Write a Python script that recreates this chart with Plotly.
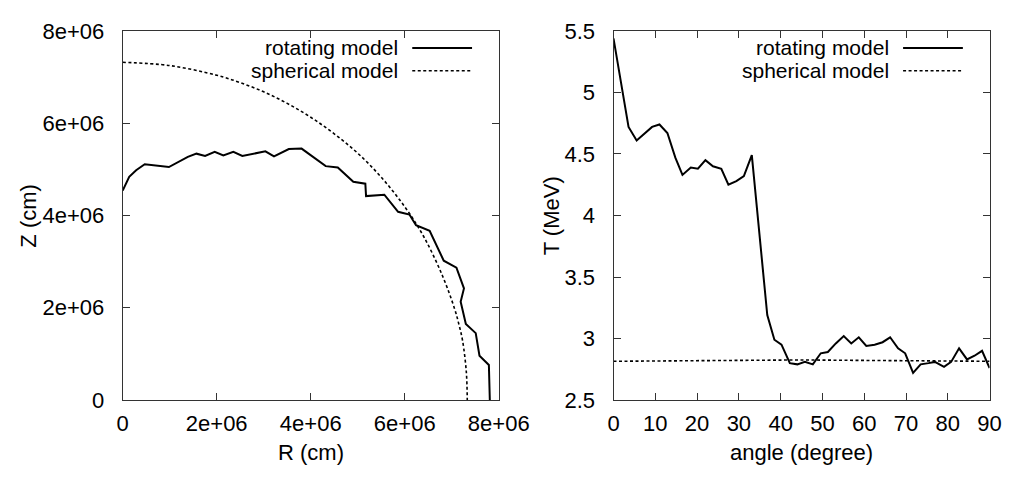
import plotly.graph_objects as go

# ---- left panel: shock surface in the R-Z plane (units of 1e6 cm) ----
rot_R = [0.0, 0.139, 0.286, 0.469, 0.983, 1.386, 1.569, 1.753, 1.958, 2.141, 2.354,
         2.545, 3.036, 3.219, 3.534, 3.806, 4.319, 4.576, 4.906, 5.162, 5.177, 5.566,
         5.859, 6.10, 6.24, 6.53, 6.83, 7.10, 7.26, 7.19, 7.30, 7.51, 7.59, 7.79, 7.81]
rot_Z = [4.54, 4.84, 4.98, 5.11, 5.05, 5.27, 5.34, 5.29, 5.38, 5.30, 5.38,
         5.29, 5.39, 5.28, 5.44, 5.45, 5.07, 5.04, 4.73, 4.69, 4.42, 4.45,
         4.08, 4.02, 3.79, 3.67, 3.02, 2.87, 2.42, 2.13, 1.65, 1.45, 0.96, 0.76, 0.0]

sph_R = [0.0, 1.0, 2.0, 2.5, 3.0, 3.5, 4.0, 4.5, 5.0, 5.5, 6.0, 6.4, 6.8, 7.06,
         7.15, 7.23, 7.31, 7.33]
sph_Z = [7.32, 7.25, 7.04, 6.88, 6.68, 6.43, 6.13, 5.77, 5.35, 4.83, 4.19, 3.55, 2.70,
         1.98, 1.65, 1.29, 0.61, 0.0]

rz_ticks = [0, 2, 4, 6, 8]
rz_ticktext = ["0", "2e+06", "4e+06", "6e+06", "8e+06"]

# ---- right panel: temperature vs polar angle ----
rot_angle = [0.0, 1.8, 3.6, 5.54, 7.46, 9.23, 11.0, 12.9, 14.8, 16.5, 18.5, 20.2, 22.0,
             23.8, 25.8, 27.5, 29.4, 31.2, 33.1, 36.8, 38.5, 40.2, 42.2, 44.0, 45.8,
             47.7, 49.6, 51.3, 53.2, 55.1, 56.9, 58.7, 60.5, 62.5, 64.4, 66.2, 68.1,
             69.8, 71.7, 73.5, 75.4, 76.9, 79.1, 80.8, 82.7, 84.6, 86.4, 88.2, 90.0]
rot_T = [5.44, 5.08, 4.72, 4.61, 4.67, 4.72, 4.74, 4.67, 4.47, 4.33, 4.39, 4.38, 4.45,
         4.40, 4.38, 4.25, 4.28, 4.32, 4.49, 3.19, 2.99, 2.95, 2.80, 2.79, 2.81,
         2.79, 2.88, 2.89, 2.96, 3.02, 2.96, 3.01, 2.94, 2.95, 2.97, 3.01, 2.92,
         2.88, 2.72, 2.79, 2.80, 2.81, 2.77, 2.81, 2.92, 2.83, 2.86, 2.90, 2.76]

sph_angle = [0, 15, 30, 45, 60, 75, 90]
sph_T = [2.815, 2.818, 2.822, 2.826, 2.822, 2.818, 2.815]

t_ticks = [2.5, 3, 3.5, 4, 4.5, 5, 5.5]
t_ticktext = ["2.5", "3", "3.5", "4", "4.5", "5", "5.5"]
angle_ticks = [0, 10, 20, 30, 40, 50, 60, 70, 80, 90]

FONT = "Liberation Sans, Arial, Helvetica, sans-serif"
FS = 22
KEY_FS = 21
INK = "#000000"
AXIS = "#333333"
DASH = "3px,2.5px"

fig = go.Figure()

fig.add_trace(go.Scatter(x=[v * 1e6 for v in rot_R], y=[v * 1e6 for v in rot_Z],
                         mode="lines", line=dict(color=INK, width=2),
                         xaxis="x", yaxis="y", name="rotating model"))
fig.add_trace(go.Scatter(x=[v * 1e6 for v in sph_R], y=[v * 1e6 for v in sph_Z],
                         mode="lines", line=dict(color=INK, width=1.6, dash=DASH,
                                                 shape="spline", smoothing=1.0),
                         xaxis="x", yaxis="y", name="spherical model"))
fig.add_trace(go.Scatter(x=rot_angle, y=rot_T, mode="lines",
                         line=dict(color=INK, width=2),
                         xaxis="x2", yaxis="y2", name="rotating model"))
fig.add_trace(go.Scatter(x=sph_angle, y=sph_T, mode="lines",
                         line=dict(color=INK, width=1.6, dash=DASH),
                         xaxis="x2", yaxis="y2", name="spherical model"))

axis_common = dict(
    showgrid=False, zeroline=False, showline=True, linecolor=AXIS, linewidth=1,
    mirror="allticks", ticks="inside", ticklen=7, tickcolor=AXIS, tickwidth=1,
    tickfont=dict(family=FONT, size=FS, color=INK),
)

y_dom = [1 - 409.5 / 477, 1 - 20 / 477]
left_dom = [121 / 1036, 511 / 1036]
right_dom = [630 / 1036, 1020 / 1036]

fig.update_layout(
    width=1036, height=477,
    margin=dict(l=0, r=0, t=0, b=0),
    paper_bgcolor="white", plot_bgcolor="white",
    showlegend=False,
    font=dict(family=FONT, size=FS, color=INK),
    xaxis=dict(axis_common, domain=left_dom, anchor="y", range=[0, 8e6],
               tickvals=[v * 1e6 for v in rz_ticks], ticktext=rz_ticktext,
               ticklabelstandoff=4),
    yaxis=dict(axis_common, domain=y_dom, anchor="x", range=[0, 8e6],
               tickvals=[v * 1e6 for v in rz_ticks], ticktext=rz_ticktext,
               ticklabelstandoff=13),
    xaxis2=dict(axis_common, domain=right_dom, anchor="y2", range=[0, 90],
                tickvals=angle_ticks, ticklabelstandoff=4),
    yaxis2=dict(axis_common, domain=y_dom, anchor="x2", range=[2.5, 5.5],
                tickvals=t_ticks, ticktext=t_ticktext, ticklabelstandoff=13),
)

# axis titles
titles = [
    dict(text="R (cm)", x=0.5, y=1 - 465 / 477, xref="x domain", yref="paper", textangle=0),
    dict(text="angle (degree)", x=0.5, y=1 - 465 / 477, xref="x2 domain", yref="paper", textangle=0),
    dict(text="Z (cm)", x=23 / 1036, y=0.5, xref="paper", yref="y domain", textangle=-90),
    dict(text="T (MeV)", x=566 / 1036, y=0.5, xref="paper", yref="y2 domain", textangle=-90),
]
for t in titles:
    fig.add_annotation(text=t["text"], x=t["x"], y=t["y"], xref=t["xref"], yref=t["yref"],
                       textangle=t["textangle"], showarrow=False,
                       xanchor="center", yanchor="middle",
                       font=dict(family=FONT, size=FS, color=INK))

# gnuplot-style keys: right-aligned label followed by a line sample
key_rows = [("rotating model", 0.954, None, 2), ("spherical model", 0.892, DASH, 1.6)]
for xa, ya in (("x", "y"), ("x2", "y2")):
    for label, yk, dash, w in key_rows:
        fig.add_annotation(text=label, x=0.737, y=yk, xref=f"{xa} domain", yref=f"{ya} domain",
                           xanchor="right", yanchor="middle", showarrow=False,
                           font=dict(family=FONT, size=KEY_FS, color=INK))
        fig.add_shape(type="line", x0=0.770, x1=0.929, y0=yk, y1=yk,
                      xref=f"{xa} domain", yref=f"{ya} domain",
                      line=dict(color=INK, width=w, dash=dash))

fig.write_html("out.html")
